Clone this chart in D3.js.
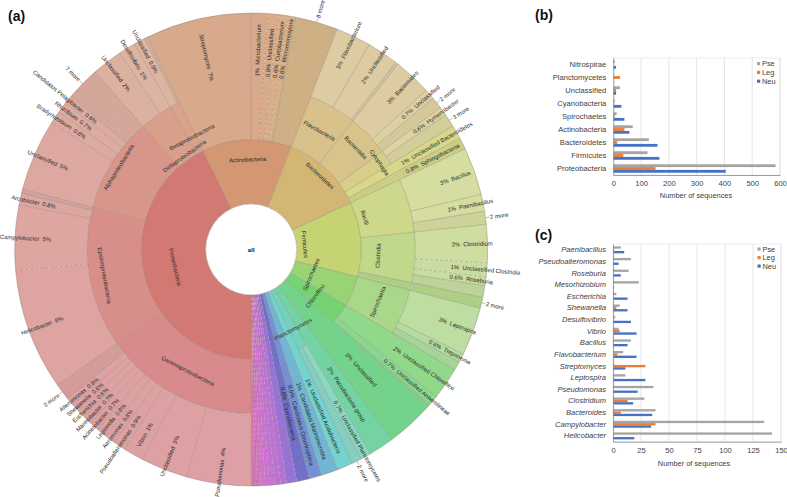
<!DOCTYPE html>
<html><head><meta charset="utf-8">
<script src="https://d3js.org/d3.v7.min.js"></script>
<style>html,body{margin:0;background:#fff}svg{display:block;font-family:"Liberation Sans",Arial,sans-serif}</style>
</head><body><svg id="c" width="787" height="497"></svg>
<script>
// ---------- (a) composition: [name, share of all sequences in %, printed %]
const gammaGenera=[["Pseudomonas",4.4,"4%"],["Unclassified",3.2,"3%"],["Vibrio",1.4,"1%"],["Pseudoalteromonas",.85,"0.9%"],["Aeromonas",.7,"0.8%"],["Legionella",.7,"0.8%"],["Acinetobacter",.65,"0.7%"],["Marinobacter",.6,"0.7%"],["Escherichia",.55,"0.6%"],["Shewanella",.55,"0.6%"],["Alteromonas",.55,"0.6%"],["2 more",1.15,""]];
const epsilonGenera=[["Helicobacter",8.3,"8%"],["Campylobacter",4.45,"5%"],["Arcobacter",.8,"0.8%"],["other",.3,""]];
const alphaGenera=[["Unclassified",4.9,"5%"],["Bradyrhizobium",.85,"0.8%"],["Rhizobium",.75,"0.7%"],["Candidatus Pelagibacter",.6,"0.6%"],["7 more",2.3,""]];
const deltaGenera=[["Unclassified",2.1,"2%"],["Desulfovibrio",1.15,"1%"]];
const betaGenera=[["Unclassified",.8,"0.9%"],["other",.2,""]];
const actinoGenera=[["Streptomyces",7.2,"7%"],["Microbacterium",1.15,"1%"],["Unclassified",.75,"0.8%"],["Curtobacterium",.6,"0.6%"],["Micromonospora",.55,"0.6%"],["8 more",2.9,""]];
const flavoGenera=[["Flavobacterium",2.4,"3%"],["Unclassified",2.15,"2%"],["other",.2,""]];
const bacteroidiaGenera=[["Bacteroides",2.6,"3%"],["Unclassified",.7,"0.7%"],["2 more",.8,""]];
const cytophagiaGenera=[["Hymenobacter",.6,"0.6%"],["3 more",.9,""]];
const bacilliGenera=[["Bacillus",3.25,"3%"],["Paenibacillus",1.15,"1%"],["2 more",.9,""]];
const clostridiaGenera=[["Clostridium",2.6,"3%"],["Unclassified Clostridia",.95,"1%"],["Roseburia",.6,"0.6%"],["other",.8,""]];
const spirochaetiaGenera=[["Leptospira",3.3,"3%"],["Treponema",.6,"0.6%"],["other",.6,""]];
const chloroflexiGroups=[["Unclassified Chloroflexi",2.2,"2%"],["Unclassified Anaerolineae",.7,"0.7%"],["other",.17,""]];
const planctoGroups=[["Unclassified Planctomycetes",.7,"0.7%"],["2 more",.65,""]];
const minorPhylumShares=[.7,.4,.4,.35,.3,.3,.25,.2,.2];

const bSeries=["Pse","Leg","Neu"];
const bCategories=["Nitrospirae","Planctomycetes","Unclassified","Cyanobacteria","Spirochaetes","Actinobacteria","Bacteroidetes","Firmicutes","Proteobacteria"];
const bPse=[5,2,24,5,12,70,128,123,584];
const bLeg=[0,24,10,2,5,40,14,36,152];
const bNeu=[10,0,10,29,40,58,159,166,405];
const bTicks=[0,100,200,300,400,500,600];

const cCategories=["Paenibacillus","Pseudoalteromonas","Roseburia","Mesorhizobium","Escherichia","Shewanella","Desulfovibrio","Vibrio","Bacillus","Flavobacterium","Streptomyces","Leptospira","Pseudomonas","Clostridium","Bacteroides","Campylobacter","Helicobacter"];
const cPse=[7,16,14,23,3,6,2,5,16,9,1,11,36,28,38,135,142];
const cLeg=[1,0,0,0,0,3,0,6,0,4,29,1,0,13,7,38,0];
const cNeu=[10,5,7,1,13,13,16,21,13,21,11,29,22,18,35,34,19];
const cTicks=[0,25,50,75,100,125,150];

// ---------- styling tables (not data)
const seriesColor={Pse:"#a5a5a5",Leg:"#ed7d31",Neu:"#4472c4"};
const hueStops=[[180,355],[250,363],[302,368],[347,384],[360,382],[386,402],[403,402],[416,412],[425,427],[445,428],[452,438],[470,452],[486,478],[498,495],[507,510],[512,525],[517,538],[521,560],[524,580],[527,598],[530,622],[532,640],[536,655],[540,685]];
const depthTone={1:[.52,.64],2:[.5,.695],3:[.47,.75]};
const hatched=new Set(["Cyanobacteria","Sphingobacteria"]);
const dashedStart=new Set(["Epsilonproteobacteria/Campylobacter","Actinobacteria/Unclassified","Actinobacteria/Curtobacterium","Actinobacteria/Micromonospora","Clostridia/Unclassified Clostridia","Clostridia/Roseburia"]);
const labelRadius={Actinobacteria:90,Bacteroidetes:101,Firmicutes:54,Spirochaetes:65,Chloroflexi:79,Planctomycetes:90,Proteobacteria:78,
 Bacteroidia:146,Cytophagia:155,Bacilli:118,Clostridia:127,Alphaproteobacteria:156,Epsilonproteobacteria:149,Deltaproteobacteria:115,Betaproteobacteria:127};

const leaf=t=>({name:t[0],share:t[1],pct:t[2]});
const group=(name,list)=>({name,children:list.map(leaf)});
const root=d3.hierarchy({name:"all",children:[
 {name:"Proteobacteria",children:[group("Gammaproteobacteria",gammaGenera),group("Epsilonproteobacteria",epsilonGenera),group("Alphaproteobacteria",alphaGenera),group("Deltaproteobacteria",deltaGenera),group("Betaproteobacteria",betaGenera)]},
 group("Actinobacteria",actinoGenera),
 {name:"Bacteroidetes",children:[group("Flavobacteria",flavoGenera),group("Bacteroidia",bacteroidiaGenera),group("Cytophagia",cytophagiaGenera),leaf(["Unclassified Bacteroidetes",.95,"1%"]),leaf(["Sphingobacteria",.8,"0.8%"])]},
 {name:"Firmicutes",children:[group("Bacilli",bacilliGenera),group("Clostridia",clostridiaGenera),leaf(["2 more",.75,""])]},
 {name:"Spirochaetes",children:[group("Spirochaetia",spirochaetiaGenera)]},
 group("Chloroflexi",chloroflexiGroups),
 leaf(["Unclassified",3.3,"3%"]),leaf(["Parcubacteria group",1.75,"2%"]),
 group("Planctomycetes",planctoGroups),
 leaf(["Unclassified Acidobacteria",1.1,"1%"]),leaf(["Candidatus Marinimicrobia",1.15,"1%"]),leaf(["Candidatus Omnitrophica",.85,"0.9%"]),leaf(["Cyanobacteria",.85,"0.8%"]),
 ...minorPhylumShares.map(s=>leaf(["minor",s,""]))
]}).sum(d=>d.share||0);
d3.partition().size([360,1])(root);

const svg=d3.select("#c");
const defs=svg.append("defs");
const pat=defs.append("pattern").attr("id","hatch").attr("width",2.2).attr("height",2.2).attr("patternUnits","userSpaceOnUse").attr("patternTransform","rotate(45)");
pat.append("path").attr("d","M0 0H2.2M0 0V2.2").attr("stroke","#4a4038").attr("stroke-opacity",.3).attr("stroke-width",.5);

const cx=251.2,cy=249.5,R=[45.5,45.5,110,164],Rout=236.5;
const g=svg.append("g").attr("transform",`translate(${cx},${cy})`);
const rad=d=>d*Math.PI/180;
const hue=d3.scaleLinear().domain(hueStops.map(d=>d[0])).range(hueStops.map(d=>d[1]));
const arc=d3.arc();
const nodes=root.descendants().slice(1).map(n=>{
 const a0=n.x0+180,a1=n.x1+180;
 return {n,a0,a1,mid:(a0+a1)/2,r0:R[n.depth],r1:n.children?[0,110,164][n.depth]:Rout,
  id:n.parent.data.name+"/"+n.data.name};
});
const colorOf=d=>{const[s,l]=depthTone[d.n.depth];return d3.hsl(((hue(d.mid)%360)+360)%360,s,l).formatHex();};
const path=d=>arc({innerRadius:d.r0,outerRadius:d.r1,startAngle:rad(d.a0),endAngle:rad(d.a1)});
const isHatch=d=>!d.n.children&&(/ more$/.test(d.n.data.name)||d.n.data.name==="other"||hatched.has(d.n.data.name));
g.append("g").selectAll("path").data(nodes).join("path").attr("d",path).attr("fill",colorOf);
g.append("g").selectAll("path").data(nodes.filter(isHatch)).join("path").attr("d",path).attr("fill","url(#hatch)");
const edgeColor="#85786e";
g.append("g").selectAll("line").data(nodes).join("line")
 .attr("x1",d=>d3.pointRadial(rad(d.a0),d.r0)[0]).attr("y1",d=>d3.pointRadial(rad(d.a0),d.r0)[1])
 .attr("x2",d=>d3.pointRadial(rad(d.a0),d.r1)[0]).attr("y2",d=>d3.pointRadial(rad(d.a0),d.r1)[1])
 .attr("stroke",edgeColor).attr("stroke-width",.4)
 .attr("stroke-dasharray",d=>dashedStart.has(d.id)||d.n.data.name==="minor"?"3 2":null);
const rimPath=d=>{const p=d3.path();p.arc(0,0,d.r1,rad(d.a0-90),rad(d.a1-90));return p.toString();};
g.append("g").selectAll("path").data(nodes).join("path").attr("d",rimPath)
 .attr("fill","none").attr("stroke",edgeColor).attr("stroke-width",.4);
g.append("circle").attr("r",45.5).attr("fill","#fff").attr("stroke",edgeColor).attr("stroke-width",.4);

const kFont=5.9,kInk="#2a2a2a";
// tangential labels
g.append("g").selectAll("text").data(nodes.filter(d=>d.n.children)).join("text")
 .attr("transform",d=>{
   const r=labelRadius[d.n.data.name]||(d.r0+d.r1)/2,[x,y]=d3.pointRadial(rad(d.mid),r);
   const m=d.mid%360,rot=m>90&&m<270?m-180:m>=270?m-360:m;
   return `translate(${x},${y}) rotate(${rot})`;})
 .attr("text-anchor","middle").attr("dy",".35em").attr("font-size",kFont).attr("fill",kInk).text(d=>d.n.data.name);
// radial labels
g.append("g").selectAll("text").data(nodes.filter(d=>!d.n.children&&d.n.data.name!=="other"&&d.n.data.name!=="minor")).join("text")
 .attr("transform",d=>{
   const more=/ more$/.test(d.n.data.name),m=d.mid%360,right=m<180;
   const r=more?Rout+4.5:(d.r0+Rout)/2,[x,y]=d3.pointRadial(rad(d.mid),r);
   return `translate(${x},${y}) rotate(${right?m-90:m-270})`;})
 .attr("text-anchor",d=>d.mid%360<180?"start":"end").attr("dy",".35em").attr("font-size",kFont).attr("fill",kInk)
 .style("white-space","pre")
 .text(d=>d.n.data.pct?(d.mid%360<180?d.n.data.pct+"  "+d.n.data.name:d.n.data.name+"  "+d.n.data.pct):d.n.data.name);
g.append("g").selectAll("line").data(nodes.filter(d=>/ more$/.test(d.n.data.name))).join("line")
 .attr("x1",d=>d3.pointRadial(rad(d.mid),Rout)[0]).attr("y1",d=>d3.pointRadial(rad(d.mid),Rout)[1])
 .attr("x2",d=>d3.pointRadial(rad(d.mid),Rout+4)[0]).attr("y2",d=>d3.pointRadial(rad(d.mid),Rout+4)[1])
 .attr("stroke",edgeColor).attr("stroke-width",.5);
g.append("text").attr("text-anchor","middle").attr("dy",".35em").attr("font-size",6).attr("font-weight","bold").attr("fill","#111").text("all");

// ---------- bar panels
function barPanel(o){
 const x=d3.scaleLinear().domain(o.domain).range([o.x0,o.x1]);
 const y=d3.scaleBand().domain(o.cats).range([o.y0,o.y1]);
 const sub=d3.scaleBand().domain(bSeries).range([0,y.bandwidth()]).paddingInner(0).paddingOuter(o.pad);
 const p=svg.append("g");
 p.append("rect").attr("x",o.x0).attr("y",o.y0).attr("width",o.x1-o.x0).attr("height",o.y1-o.y0).attr("fill","none").attr("stroke","#e4e4e4").attr("stroke-width",.7);
 p.append("g").selectAll("line").data(o.ticks.slice(1)).join("line").attr("x1",x).attr("x2",x).attr("y1",o.y0).attr("y2",o.y1).attr("stroke","#e2e2e2").attr("stroke-width",.9);
 bSeries.forEach((s,i)=>{
  p.append("g").selectAll("rect").data(o.vals[i]).join("rect")
   .attr("x",x(0)).attr("y",(d,j)=>y(o.cats[j])+sub(s)).attr("width",d=>x(d)-x(0)).attr("height",sub.bandwidth()).attr("fill",seriesColor[s]);
 });
 const ax=p.append("g").attr("transform",`translate(0,${o.y1})`).call(d3.axisBottom(x).tickValues(o.ticks).tickSize(0).tickPadding(6));
 const ay=p.append("g").attr("transform",`translate(${o.x0},0)`).call(d3.axisLeft(y).tickSize(0).tickPadding(7));
 [ax,ay].forEach(a=>{a.select(".domain").attr("stroke","#8a8a8a").attr("stroke-width",.8);
   a.selectAll("text").attr("font-size",7.6).attr("font-family","'Liberation Sans',Arial,sans-serif").attr("fill","#404040");});
 if(o.italic)ay.selectAll("text").attr("font-style","italic");
 p.append("text").attr("x",o.tx).attr("y",o.ty).attr("text-anchor","middle").attr("font-size",7.4).attr("fill","#404040").text("Number of sequences");
 bSeries.forEach((s,i)=>{
  p.append("rect").attr("x",o.lx).attr("y",o.ly+i*o.ls-1.5).attr("width",3.2).attr("height",3.2).attr("fill",seriesColor[s]);
  p.append("text").attr("x",o.lx+5).attr("y",o.ly+i*o.ls).attr("dy",".35em").attr("font-size",7.4).attr("fill","#404040").text(s);
 });
}
barPanel({cats:bCategories,vals:[bPse,bLeg,bNeu],domain:[0,600],ticks:bTicks,x0:613.3,x1:780,y0:58,y1:175,pad:.8,tx:696,ty:198,lx:757,ly:63.5,ls:8.8});
barPanel({cats:cCategories,vals:[cPse,cLeg,cNeu],domain:[0,150],ticks:cTicks,x0:613,x1:781,y0:244,y1:441.7,pad:1,italic:true,tx:694,ty:466,lx:757.5,ly:249,ls:8.5});

// panel letters
[["(a)",8,21],["(b)",535,20],["(c)",535,240]].forEach(t=>svg.append("text").attr("x",t[1]).attr("y",t[2]).attr("font-size",14).attr("font-weight","bold").attr("fill","#111").text(t[0]));
</script></body></html>
